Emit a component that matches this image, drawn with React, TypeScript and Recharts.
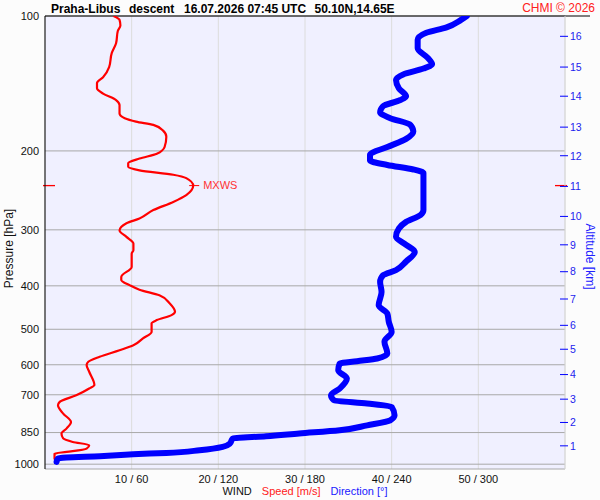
import { CartesianGrid, ReferenceLine, Scatter, ScatterChart, XAxis, YAxis } from 'recharts';

const FONT = '"Liberation Sans", Arial, sans-serif';
const RED = '#ff0000';
const BLUE = '#0000ff';

// wind speed profile: pressure [hPa] -> speed [m/s]
const SPEED_P = [
  100, 102, 105, 108, 115, 121, 130, 137, 141, 145, 149, 154, 158, 165, 169, 172, 175, 180, 186, 196,
  203, 208, 213, 217, 221, 226, 230, 239, 251, 260, 271, 283, 290, 301, 311, 322, 333, 339, 363, 382,
  388, 399, 408, 420, 438, 457, 465, 477, 485, 507, 524, 543, 557, 576, 591, 601, 622, 666, 678, 702,
  726, 739, 771, 805, 832, 854, 876, 892, 907, 923, 939, 947, 971, 988,
];
const SPEED = [
  7.9, 8.6, 8.7, 8.4, 8.2, 7.7, 7.4, 6.7, 6.0, 6.0, 6.7, 8.2, 8.6, 8.6, 9.2, 10.5, 12.5, 13.6, 14.0, 13.8,
  12.9, 10.9, 9.6, 9.6, 10.9, 14.8, 16.3, 17.1, 16.3, 14.8, 12.5, 10.9, 9.4, 8.6, 9.4, 10.2, 10.2, 10.0, 10.0, 8.8,
  8.8, 9.8, 10.9, 13.2, 14.4, 15.0, 14.6, 12.9, 12.3, 12.3, 11.3, 10.2, 8.6, 6.3, 5.0, 4.8, 5.1, 5.7, 5.1, 3.6,
  1.7, 1.5, 2.1, 3.0, 2.5, 1.9, 2.1, 3.2, 5.1, 4.8, 2.5, 1.1, 1.1, 1.5,
];

// wind direction profile: pressure [hPa] -> direction [deg]
const DIR_P = [
  100, 102, 106, 109, 113, 118, 124, 128, 131, 135, 139, 145, 151, 154, 159, 164, 169, 175, 181, 188,
  196, 204, 210, 215, 220, 224, 236, 271, 278, 288, 298, 311, 324, 336, 353, 369, 379, 392, 413, 442,
  461, 481, 507, 533, 566, 581, 589, 596, 617, 644, 678, 702, 720, 732, 745, 778, 798, 819, 840, 854,
  866, 876, 899, 915, 931, 944, 950, 960, 966, 971, 988,
];
const DIR = [
  292, 288, 278, 264, 258, 258, 265, 268, 262, 248, 243, 245, 250, 246, 234, 232, 239, 253, 255, 250,
  237, 225, 225, 237, 255, 262, 262, 262, 260, 250, 245, 243, 250, 256, 250, 243, 234, 232, 233, 231,
  237, 238, 240, 235, 237, 230, 216, 204, 203, 209, 204, 198, 200, 223, 240, 242, 239, 223, 204, 176,
  153, 130, 128, 123, 107, 84, 61, 38, 15, 9, 8,
];

const P_TICKS = [100, 200, 300, 400, 500, 600, 700, 850, 925, 1000];
const SPEED_TICKS = [10, 20, 30, 40, 50];
// altitude marks on the right axis: km and the pressure level they sit at
const ALT_KM = [1, 2, 3, 4, 5, 6, 7, 8, 9, 10, 11, 12, 13, 14, 15, 16];
const ALT_P = [910, 807, 716, 631, 554, 490, 428, 372, 324, 280, 240, 205, 177, 151, 130, 111];

const MXWS = [{ speed: 17.1, p: 239 }];

const speedData = SPEED_P.map((p, i) => ({ p, speed: SPEED[i] }));
const dirData = DIR_P.map((p, i) => ({ p, dir: DIR[i] }));

const NoDot = () => <g />;

function MxwsMark(props: any) {
  const { cx, cy } = props;
  return (
    <g>
      <line x1={cx - 4} x2={cx + 6} y1={cy} y2={cy} stroke={RED} />
      <text x={cx + 10} y={cy} dy="0.35em" fontSize={11} fill="#ff3333" fontFamily={FONT}>
        MXWS
      </text>
    </g>
  );
}

function AltTick(props: any) {
  const { x, y, payload } = props;
  const km = ALT_KM[ALT_P.indexOf(payload.value)];
  return (
    <g>
      <line x1={x - 5} x2={x + 3} y1={y} y2={y} stroke={BLUE} />
      <text x={x + 5} y={y} dy="0.36em" fontSize={10.5} fill="#1c1cee" fontFamily={FONT}>
        {km}
      </text>
    </g>
  );
}

export default function App() {
  return (
    <div style={{ position: 'absolute', left: 0, top: 0, width: 600, height: 500, background: '#fcfcfc' }}>
      <ScatterChart width={600} height={500} margin={{ top: 16, right: 0, bottom: 0, left: 0 }}>
        <CartesianGrid xAxisId="spd" yAxisId="p" horizontal={false} stroke="#dcdcdc" fill="#f0f0ff" />
        <CartesianGrid xAxisId="spd" yAxisId="p" vertical={false} stroke="#a8a8a8" />
        <XAxis
          xAxisId="spd"
          type="number"
          dataKey="speed"
          domain={[0, 60]}
          ticks={SPEED_TICKS}
          allowDataOverflow
          height={31}
          axisLine={false}
          tickLine={false}
          tickSize={0}
          tickMargin={6}
          tick={{ fontSize: 11, fill: '#111', fontFamily: FONT }}
          tickFormatter={(v) => `${v} / ${v * 6}`}
          label={({ viewBox }: any) => (
            <text x={viewBox.x + viewBox.width / 2} y={viewBox.y + 26} textAnchor="middle" fontSize={11} fontFamily={FONT}>
              <tspan fill="#111">WIND</tspan>
              <tspan dx={10} fill="#ff2020">Speed [m/s]</tspan>
              <tspan dx={10} fill="#2020ff">Direction [°]</tspan>
            </text>
          )}
        />
        <XAxis xAxisId="dir" orientation="top" type="number" dataKey="dir" domain={[0, 360]} allowDataOverflow hide />
        <YAxis
          yAxisId="p"
          type="number"
          dataKey="p"
          scale="log"
          domain={[100, 1025]}
          reversed
          allowDataOverflow
          ticks={P_TICKS}
          width={45}
          axisLine={{ stroke: '#000' }}
          tickLine={false}
          tickSize={0}
          tickMargin={6}
          tick={{ fontSize: 11, fill: '#111', fontFamily: FONT }}
          label={({ viewBox }: any) => {
            const cy = viewBox.y + viewBox.height / 2 + 6;
            return (
              <text x={12.5} y={cy} transform={`rotate(-90, 12.5, ${cy})`} textAnchor="middle" fontSize={12} fill="#111" fontFamily={FONT}>
                Pressure [hPa]
              </text>
            );
          }}
        />
        <YAxis
          yAxisId="alt"
          orientation="right"
          type="number"
          dataKey="p"
          scale="log"
          domain={[100, 1025]}
          reversed
          allowDataOverflow
          ticks={ALT_P}
          width={35}
          axisLine={{ stroke: '#d8d8d8' }}
          tickLine={false}
          tickSize={0}
          tickMargin={0}
          tick={<AltTick />}
          label={({ viewBox }: any) => {
            const x = viewBox.x + 20.5;
            const cy = viewBox.y + viewBox.height / 2 + 14;
            return (
              <text x={x} y={cy} transform={`rotate(90, ${x}, ${cy})`} textAnchor="middle" fontSize={12} fill="#2020ff" fontFamily={FONT}>
                Altitude [km]
              </text>
            );
          }}
        />
        <ReferenceLine
          xAxisId="spd"
          yAxisId="p"
          y={100}
          shape={(p: any) => <line x1={p.x1} x2={p.x2 + 25} y1={p.y1} y2={p.y2} stroke="#000" />}
        />
        <Scatter
          xAxisId="spd"
          yAxisId="p"
          data={speedData}
          fill={RED}
          shape={NoDot}
          line={{ stroke: RED, strokeWidth: 2.2, strokeLinejoin: 'round' }}
          lineJointType="monotoneY"
          isAnimationActive={false}
        />
        <Scatter
          xAxisId="dir"
          yAxisId="p"
          data={dirData}
          fill={BLUE}
          shape={NoDot}
          line={{ stroke: BLUE, strokeWidth: 6, strokeLinejoin: 'round', strokeLinecap: 'round' }}
          lineJointType="monotoneY"
          isAnimationActive={false}
        />
        <Scatter xAxisId="spd" yAxisId="p" data={MXWS} shape={MxwsMark} isAnimationActive={false} />
        <ReferenceLine
          xAxisId="spd"
          yAxisId="p"
          y={MXWS[0].p}
          ifOverflow="visible"
          shape={(p: any) => (
            <g>
              <line x1={p.x1 - 2} x2={p.x1 + 10} y1={p.y1} y2={p.y1} stroke={RED} strokeWidth={1.3} />
              <line x1={p.x2 - 10} x2={p.x2 + 2} y1={p.y1} y2={p.y1} stroke={RED} strokeWidth={1.3} />
            </g>
          )}
        />
      </ScatterChart>
      <svg width={600} height={30} style={{ position: 'absolute', left: 0, top: 0, pointerEvents: 'none' }}>
        <g fontFamily={FONT} fontSize={12} fontWeight="bold" fill="#000">
          <text x={51} y={13}>Praha-Libus</text>
          <text x={129} y={13}>descent</text>
          <text x={184} y={13}>16.07.2026 07:45 UTC</text>
          <text x={314.5} y={13}>50.10N,14.65E</text>
        </g>
        <text x={595} y={12} textAnchor="end" fontFamily={FONT} fontSize={12} fill="#ff2020">
          CHMI © 2026
        </text>
      </svg>
    </div>
  );
}
